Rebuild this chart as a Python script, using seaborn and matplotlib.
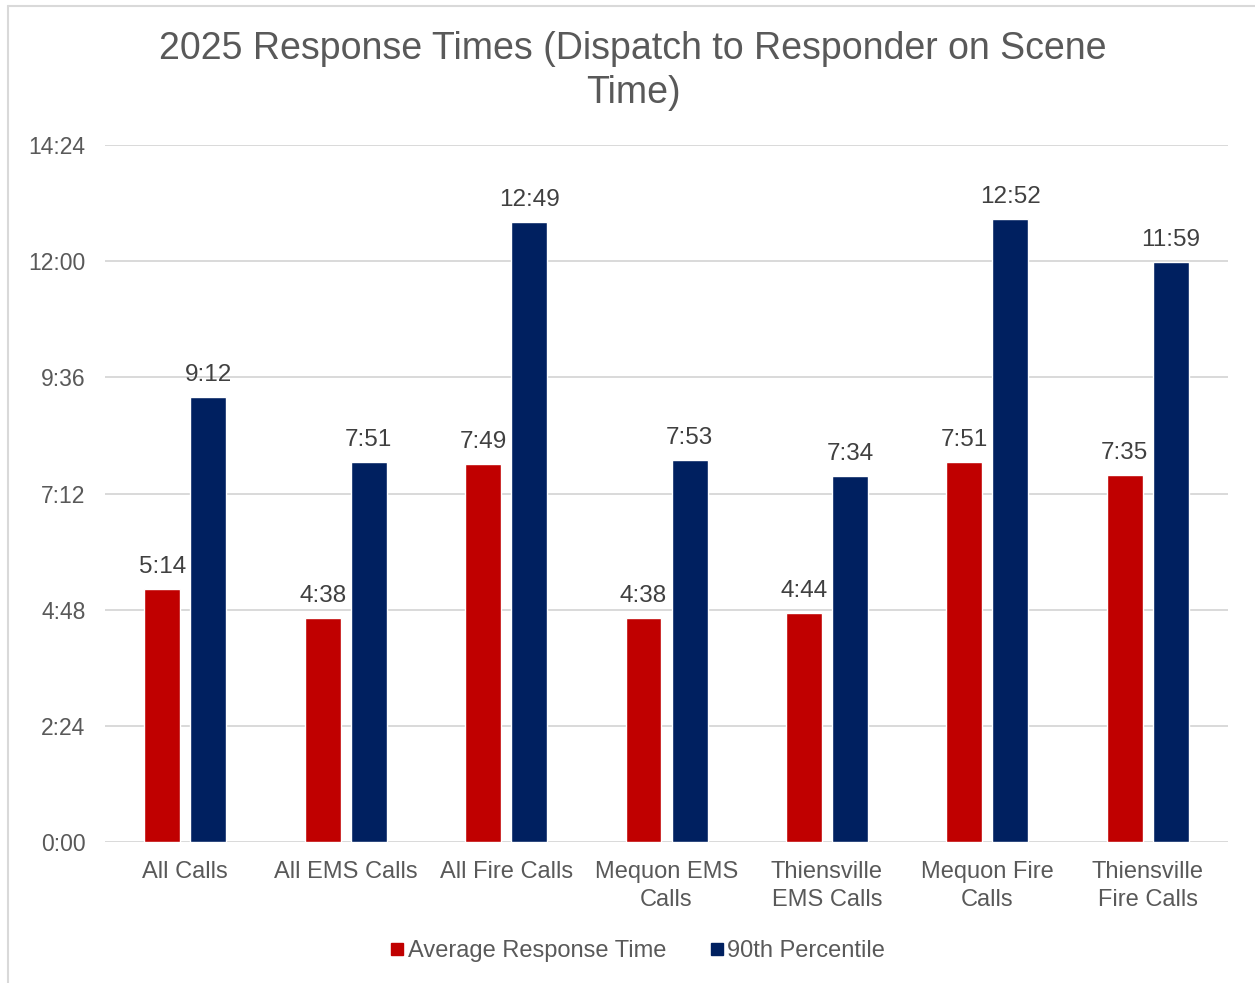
import pandas as pd
import matplotlib.pyplot as plt
import matplotlib.lines as mlines
import seaborn as sns

categories = ['All Calls', 'All EMS Calls', 'All Fire Calls', 'Mequon EMS\nCalls',
              'Thiensville\nEMS Calls', 'Mequon Fire\nCalls', 'Thiensville\nFire Calls']
# times in seconds
avg_response = [314, 278, 469, 278, 284, 471, 455]
pct90 = [552, 471, 769, 473, 454, 772, 719]
series = ['Average Response Time', '90th Percentile']
colors = ['#C00000', '#002060']
yticks = [0, 144, 288, 432, 576, 720, 864]


def mmss(v):
    v = int(round(v))
    return f"{v // 60}:{v % 60:02d}"


df = pd.DataFrame({
    'Category': categories * 2,
    'Series': [series[0]] * len(categories) + [series[1]] * len(categories),
    'Seconds': avg_response + pct90,
})

sns.set_theme(style="white")
plt.rcParams['font.family'] = ['Liberation Sans', 'DejaVu Sans']
text_gray = '#595959'

fig = plt.figure(figsize=(12.55, 9.83), dpi=100)
ax = fig.add_axes([0.0837, 0.1434, 0.8948, 0.7091])

sns.barplot(data=df, x='Category', y='Seconds', hue='Series', palette=colors,
            width=0.574, gap=0.22, ax=ax, legend=False, saturation=1)

ax.set_ylim(0, 864)
ax.set_xlim(-0.5, 6.5)
ax.set_yticks(yticks)
ax.set_yticklabels([mmss(t) for t in yticks])
ax.yaxis.grid(True, color='#D9D9D9', linewidth=1.4)
ax.set_axisbelow(True)
for s in ax.spines.values():
    s.set_visible(False)
ax.tick_params(axis='y', length=0, labelsize=16.5, labelcolor=text_gray, pad=14)
ax.tick_params(axis='x', length=0, labelsize=17, labelcolor=text_gray, pad=14)
for lbl in ax.get_xticklabels():
    lbl.set_linespacing(1.3)
ax.set_xlabel('')
ax.set_ylabel('')

for container in ax.containers:
    ax.bar_label(container, labels=[mmss(b.get_height()) for b in container],
                 padding=8, fontsize=17.5, color='#404040')

fig.text(633 / 1255, 1 - 71 / 983, '2025 Response Times (Dispatch to Responder on Scene\nTime)',
         ha='center', va='center', fontsize=27, color=text_gray, linespacing=1.32)

handles = [mlines.Line2D([], [], marker='s', linestyle='None', markersize=9,
                         markerfacecolor=c, markeredgecolor=c) for c in colors]
fig.legend(handles, series, loc='center', bbox_to_anchor=(637 / 1255, 1 - 951 / 983),
           ncol=2, frameon=False, fontsize=17, labelcolor=text_gray,
           handletextpad=0.1, columnspacing=1.8, handlelength=0.7)

# chart border (left and top edges visible)
fig.add_artist(mlines.Line2D([8 / 1255, 8 / 1255], [0, 1 - 6 / 983],
                             transform=fig.transFigure, color='#D9D9D9', lw=1.5))
fig.add_artist(mlines.Line2D([8 / 1255, 1], [1 - 6 / 983, 1 - 6 / 983],
                             transform=fig.transFigure, color='#D9D9D9', lw=1.5))

plt.savefig('out.png', dpi=100)
plt.close()
